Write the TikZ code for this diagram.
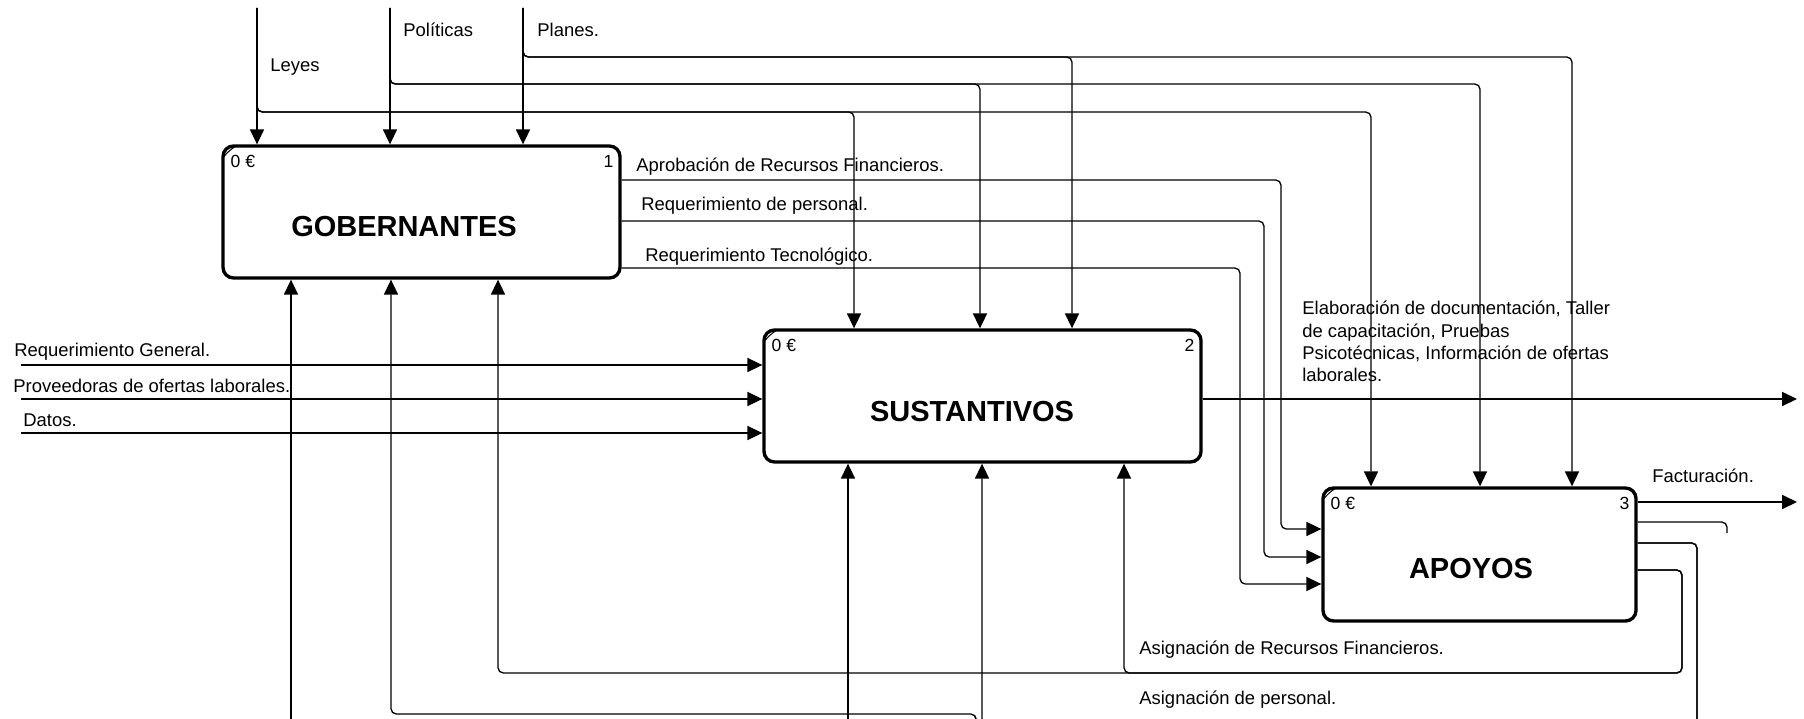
\documentclass[tikz,border=0pt]{standalone}
\usepackage{fontspec}
\setmainfont{Liberation Sans}
\usetikzlibrary{arrows.meta,fit}

\begin{document}
\begin{tikzpicture}[
    x=0.02cm, y=-0.02cm,
    proc/.style   = {draw, line width=1.9pt, rounded corners=6pt, inner sep=0pt},
    flow/.style   = {line width=0.75pt, rounded corners=3pt,
                     -{Triangle[length=8.5pt,width=8pt]}},
    wire/.style   = {line width=0.75pt, rounded corners=3pt},
    lbl/.style    = {font=\fontsize{10.5}{12.7}\selectfont, inner sep=0pt,
                     anchor=base west},
    ttl/.style    = {font=\fontsize{16.5}{20}\selectfont\bfseries, inner sep=0pt,
                     anchor=base},
    boxtag/.style = {font=\fontsize{10}{12}\selectfont, inner sep=0pt}
]
    \useasboundingbox (0,0) rectangle (1804,719);
    \clip (0,0) rectangle (1804,719);

    %-- Activity boxes --------------------------------------------------------
    \node[proc, fit={(223,146) (620,278)}]   (gob) {};
    \node[proc, fit={(764,330) (1201,462)}]  (sus) {};
    \node[proc, fit={(1323,488) (1636,621)}] (apo) {};

    \node[ttl] (gob-t) at (404,237)  {GOBERNANTES};
    \node[ttl] (sus-t) at (972,421)  {SUSTANTIVOS};
    \node[ttl] (apo-t) at (1471,578) {APOYOS};

    %-- cost and number tags in the top corners ------------------------------
    \foreach \b/\k in {gob/1, sus/2, apo/3}{
        \node[boxtag, anchor=base west] (\b-cost) at ([shift={(9,23)}]\b.north west) {0 €};
        \node[boxtag, anchor=base east] (\b-num)  at ([shift={(-8,23)}]\b.north east) {\k};
        \draw[line width=0.6pt] ([shift={(2,13)}]\b.north west)
            to[bend left=8] ([shift={(14,2)}]\b.north west);
    }

    %-- Controls from above: one drop into each box ---------------------------
    \foreach \n/\x/\y/\sx/\ax in {leyes/257/112/854/1371,
                                  politicas/390/84/980/1480,
                                  planes/523/57/1072/1572}{
        \coordinate (\n) at (\x,8);
        \draw[flow] (\n) -- (\n |- gob.north);
        \draw[flow] (\n) |- (\sx,\y) -- (\sx,\y |- sus.north);
        \draw[flow] (\n) |- (\ax,\y) -- (\ax,\y |- apo.north);
    }
    \node[lbl] (leyes-l)     at (270,72) {Leyes};
    \node[lbl] (politicas-l) at (403,37) {Políticas};
    \node[lbl] (planes-l)    at (537,37) {Planes.};

    %-- GOBERNANTES -> APOYOS -------------------------------------------------
    \foreach \n/\y/\x/\t/\lx/\ly/\txt in {
        aprob/180/1281/529/636/172/{Aprobación de Recursos Financieros.},
        reqper/221/1264/557/641/211/{Requerimiento de personal.},
        reqtec/268/1240/584/645/262/{Requerimiento Tecnológico.}}{
        \draw[flow] (gob.east |- 0,\y) -| (\x,\t) -- (apo.west |- 0,\t);
        \node[lbl] (\n-l) at (\lx,\ly) {\txt};
    }

    %-- Inputs to SUSTANTIVOS -------------------------------------------------
    \foreach \n/\y/\lx/\ly/\txt in {
        reqgen/365/14/357/{Requerimiento General.},
        prov/399/13/392/{Proveedoras de ofertas laborales.},
        datos/433/23/426/{Datos.}}{
        \coordinate (\n) at (21,\y);
        \draw[flow] (\n) -- (\n -| sus.west);
        \node[lbl] (\n-l) at (\lx,\ly) {\txt};
    }

    %-- SUSTANTIVOS output ----------------------------------------------------
    \coordinate (sus-out) at (1797,399);
    \draw[flow] (sus.east |- sus-out) -- (sus-out);
    \node[lbl, align=left, anchor=north west] (sus-out-l) at (1302,301)
        {Elaboración de documentación, Taller\\de capacitación, Pruebas\\
         Psicotécnicas, Información de ofertas\\laborales.};

    %-- APOYOS outputs --------------------------------------------------------
    \coordinate (fact) at (1797,502);
    \draw[flow] (apo.east |- fact) -- (fact);
    \node[lbl] (fact-l) at (1652,482) {Facturación.};

    \coordinate (stub) at (1727,533);
    \draw[wire] (apo.east |- 0,522) -| (stub);

    % financial resources back to both boxes (mechanism side)
    \coordinate (rf) at (1682,673);
    \draw[flow] (apo.east |- 0,570) -| (rf) -| (gob.south -| 498,0);
    \draw[flow] (apo.east |- 0,570) -| (rf) -| (sus.south -| 1124,0);
    \node[lbl] (rf-l) at (1139,654) {Asignación de Recursos Financieros.};

    % staff back to both boxes, routed along the bottom edge
    \coordinate (pe) at (1697,724);
    \draw[flow] (apo.east |- 0,543) -| (pe) -| (sus.south -| 982,0);
    \draw[flow] (apo.east |- 0,543) -| (pe) -- (976,724) |- (391,714)
        -- (gob.south -| 391,0);
    \node[lbl] (pe-l) at (1139,704) {Asignación de personal.};

    %-- Mechanisms from below -------------------------------------------------
    \coordinate (mgob) at (291,724);
    \coordinate (msus) at (848,724);
    \draw[flow] (mgob) -- (mgob |- gob.south);
    \draw[flow] (msus) -- (msus |- sus.south);

\end{tikzpicture}
\end{document}
